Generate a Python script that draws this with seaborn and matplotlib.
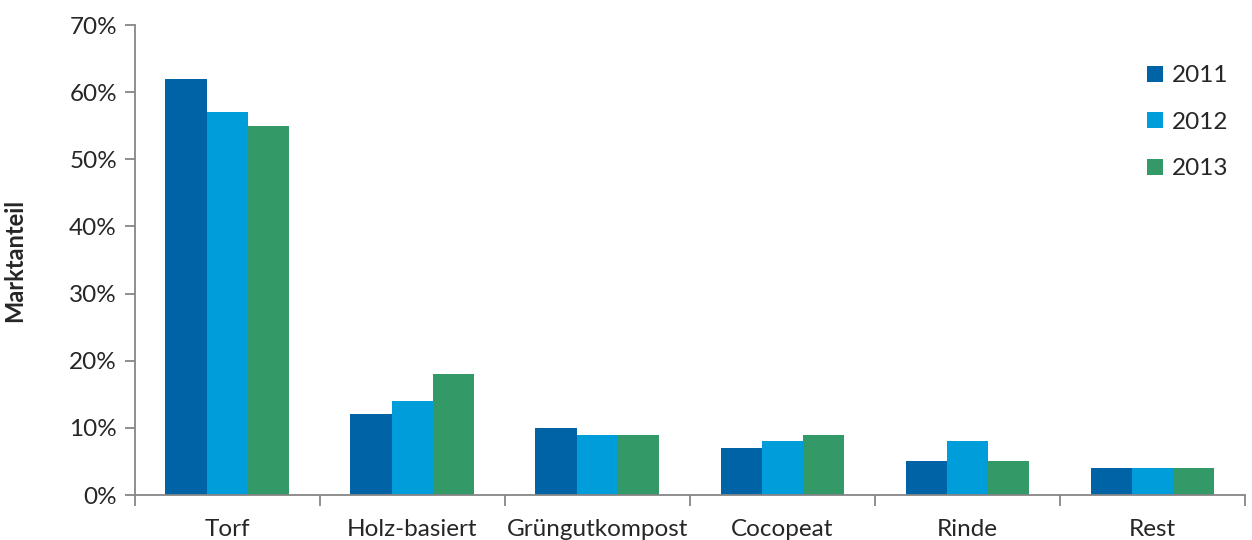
import pandas as pd
import matplotlib
matplotlib.use("Agg")
import matplotlib.pyplot as plt
import seaborn as sns
from matplotlib.ticker import FixedLocator, PercentFormatter

# Daten
kategorien = ["Torf", "Holz-basiert", "Grüngutkompost", "Cocopeat", "Rinde", "Rest"]
jahre = ["2011", "2012", "2013"]
werte_2011 = [62, 12, 10, 7, 5, 4]
werte_2012 = [57, 14, 9, 8, 8, 4]
werte_2013 = [55, 18, 9, 9, 5, 4]

df = pd.DataFrame({
    "Kategorie": kategorien * 3,
    "Jahr": [j for j in jahre for _ in kategorien],
    "Anteil": werte_2011 + werte_2012 + werte_2013,
})

farben = ["#0063a6", "#009ddb", "#339966"]

sns.set_style("white")
plt.rcParams["font.family"] = ["Lato", "DejaVu Sans"]

fig = plt.figure(figsize=(12.52, 5.4), dpi=100)
ax = fig.add_axes([0.1078, 0.0833, 0.8866, 0.8704])

sns.barplot(data=df, x="Kategorie", y="Anteil", hue="Jahr", palette=farben,
            width=0.67, linewidth=0, saturation=1, ax=ax)

ax.set_ylim(0, 70)
ax.set_xlim(-0.5, 5.5)
ax.set_yticks(range(0, 71, 10))
ax.yaxis.set_major_formatter(PercentFormatter(decimals=0))

grau = "#868686"
for s in ["top", "right"]:
    ax.spines[s].set_visible(False)
for s in ["left", "bottom"]:
    ax.spines[s].set_color(grau)
    ax.spines[s].set_linewidth(1.3)

ax.tick_params(axis="y", which="major", length=7, width=1.3, color=grau,
               labelsize=17.5, pad=6, direction="out", left=True)
ax.tick_params(axis="x", which="major", length=0, labelsize=17.5, pad=17)
ax.xaxis.set_minor_locator(FixedLocator([i - 0.5 for i in range(7)]))
ax.tick_params(axis="x", which="minor", length=8, width=1.3, color=grau,
               direction="out", bottom=True)

ax.set_xlabel("")
ax.set_ylabel("Marktanteil", fontsize=17, fontweight="bold", labelpad=31)

leg = ax.legend(loc="upper left", bbox_to_anchor=(0.9085, 0.897),
                bbox_transform=fig.transFigure, frameon=False, fontsize=17.5,
                handlelength=0.65, handleheight=0.65, handletextpad=0.35,
                labelspacing=1.05, borderaxespad=0)

fig.savefig("out.png", dpi=100)
